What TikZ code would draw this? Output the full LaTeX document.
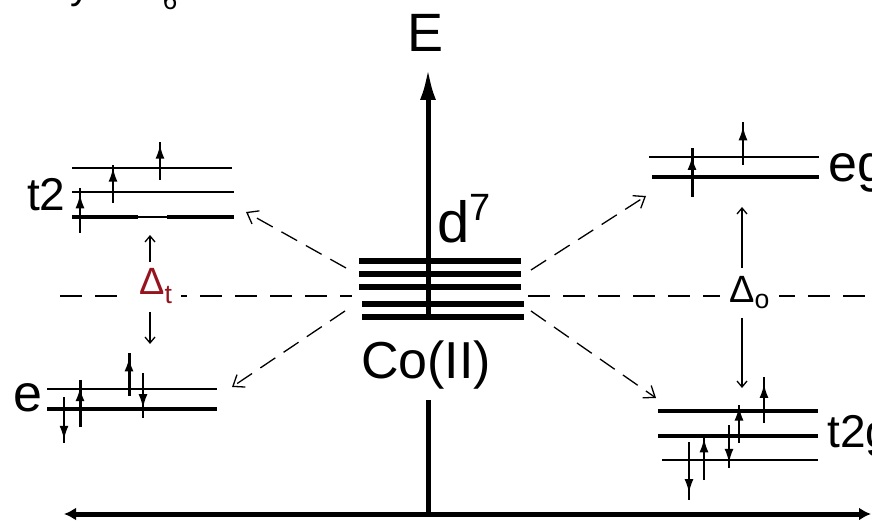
\documentclass[tikz,border=0pt]{standalone}
\usepackage{fontspec}
\setmainfont{Liberation Sans}
\usetikzlibrary{arrows.meta,decorations.markings}
\definecolor{dred}{RGB}{150,20,30}
\tikzset{
  lvthin/.style={line width=2.2pt},
  lvthick/.style={line width=4.2pt},
  core/.style={line width=6.5pt},
  axisline/.style={line width=5pt},
  spin/.style={line width=2pt, postaction={decorate},
    decoration={markings, mark=at position #1 with {\arrow{Latex[length=14pt,width=9pt]}}}},
  dconn/.style={line width=1.3pt, dash pattern=on 18pt off 10pt, -{Straight Barb[length=10pt,width=15pt,line width=1.3pt]}},
  gapline/.style={line width=1.5pt, dash pattern=on 22pt off 13pt},
  gaparrow/.style={line width=1.5pt, -{Straight Barb[length=6pt,width=10pt,line width=1.3pt]}},
  lbl/.style={inner sep=0pt},
}
\begin{document}
\begin{tikzpicture}[x=1pt,y=-1pt]
\useasboundingbox (0,0) rectangle (872,526);
\clip (0,0) rectangle (872,526);

% clipped title fragments
\node[lbl,anchor=base,font=\fontsize{40}{40}\selectfont] (frag1) at (80,-1) {y};
\node[lbl,anchor=base,font=\fontsize{26}{26}\selectfont] (frag2) at (170,10) {6};

% axes
\coordinate (vtop) at (428,68);
\coordinate (vcore) at (428,317);
\coordinate (vlow) at (428,400);
\coordinate (vbase) at (428,514);
\coordinate (hl) at (64,514);
\coordinate (hr) at (871,514);
\draw[axisline,-{Latex[length=32pt,width=16pt]}] (vcore) -- (vtop);
\draw[axisline] (vlow) -- (vbase);
\draw[axisline,{Latex[length=12pt,width=13pt]}-{Latex[length=12pt,width=13pt]}] (hl) -- (hr);

\node[lbl,font=\fontsize{54}{54}\selectfont] (E) at (426,33) {E};

% horizontal dashed line
\draw[gapline] (60,296) -- (352,296);
\draw[gapline] (528,296) -- (872,296);

% central d levels
\foreach \y in {261,274,287} \draw[core] (359,\y) -- (521,\y);
\foreach \y in {304,317} \draw[core] (362,\y) -- (524,\y);
\coordinate (cUL) at (346,268);
\coordinate (cLL) at (345,311);
\coordinate (cUR) at (531,270);
\coordinate (cLR) at (531,311);

\node[lbl,anchor=base west,font=\fontsize{58}{58}\selectfont] (d7) at (437,243) {d\raisebox{22pt}{\fontsize{38}{38}\selectfont 7}};
\node[lbl,font=\fontsize{52}{52}\selectfont] (co) at (426,365) {Co(II)};

% left t2 levels
\draw[lvthin] (72,168) -- (232,168);
\draw[lvthin] (72,192) -- (234,192);
\draw[lvthick] (72,217) -- (138,217);
\draw[lvthin] (138,217) -- (167,217);
\draw[lvthick] (167,217) -- (234,217);
\coordinate (t2end) at (246,212);
\node[lbl,anchor=base west,font=\fontsize{46}{46}\selectfont] (t2) at (27,211) {t2};
\draw[spin=0.86] (80,233) -- (80,188);
\draw[spin=0.93] (113,203) -- (113,165);
\draw[spin=0.93] (160,180) -- (160,142);

% left e levels
\draw[lvthin] (47,389) -- (217,389);
\draw[lvthick] (47,409) -- (217,409);
\coordinate (eend) at (232,387);
\node[lbl,anchor=base west,font=\fontsize{52}{52}\selectfont] (e) at (13,411) {e};
\draw[spin=0.93] (64,397) -- (64,443);
\draw[spin=0.85,line width=3pt] (80,427) -- (80,380);
\draw[spin=0.9,line width=3pt] (129,396) -- (129,353);
\draw[spin=0.78] (143,373) -- (143,418);

% right eg levels
\draw[lvthin] (649,157) -- (819,157);
\draw[lvthick] (652,177) -- (819,177);
\coordinate (egend) at (646,196);
\node[lbl,anchor=base west,font=\fontsize{52}{52}\selectfont] (eg) at (828,182) {eg};
\draw[spin=0.84,line width=3pt] (692,197) -- (692,148);
\draw[spin=0.9] (743,165) -- (743,122);

% right t2g levels
\draw[lvthick] (658,411) -- (818,411);
\draw[lvthick] (658,436) -- (818,436);
\draw[lvthin] (662,460) -- (818,460);
\coordinate (t2gend) at (656,398);
\node[lbl,anchor=base west,font=\fontsize{46}{46}\selectfont] (t2g) at (827,447) {t2g};
\draw[spin=0.88] (689,442) -- (689,500);
\draw[spin=0.97] (704,480) -- (704,437);
\draw[spin=0.88] (729,425) -- (729,468);
\draw[spin=0.96] (739,443) -- (739,405);
\draw[spin=0.85] (764,423) -- (764,377);

% dashed connectors
\draw[dconn] (cUL) -- (t2end);
\draw[dconn] (cLL) -- (eend);
\draw[dconn] (cUR) -- (egend);
\draw[dconn] (cLR) -- (t2gend);

% splitting labels
\node[lbl,anchor=base west,fill=white,inner xsep=9pt,inner ysep=1pt,text=dred,font=\fontsize{38}{38}\selectfont] (dt) at (130,295) {Δ\textsubscript{t}};
\node[lbl,anchor=base west,fill=white,inner xsep=9pt,inner ysep=1pt,font=\fontsize{38}{38}\selectfont] (do) at (720,303) {Δ\textsubscript{o}};
\coordinate (dtA) at (150,262);
\coordinate (dtTip) at (150,235);
\coordinate (dtB) at (150,312);
\coordinate (dtBot) at (150,344);
\coordinate (doA) at (742,268);
\coordinate (doTip) at (742,207);
\coordinate (doB) at (742,318);
\coordinate (doBot) at (742,388);
\draw[gaparrow] (dtA) -- (dtTip);
\draw[gaparrow] (dtB) -- (dtBot);
\draw[gaparrow] (doA) -- (doTip);
\draw[gaparrow] (doB) -- (doBot);
\end{tikzpicture}
\end{document}
